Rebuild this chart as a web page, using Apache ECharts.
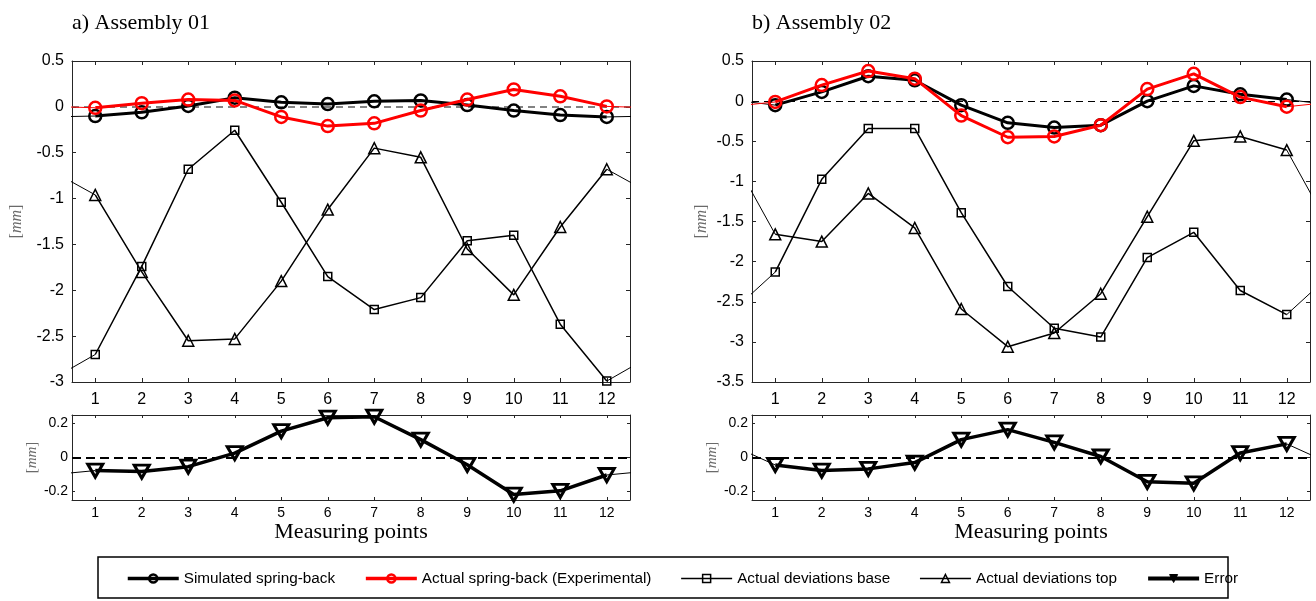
<!DOCTYPE html>
<html><head><meta charset="utf-8">
<script src="https://cdn.jsdelivr.net/npm/echarts@6/dist/echarts.min.js"></script>
<style>html,body{margin:0;padding:0;background:#fff}#c{width:1316px;height:601px}</style>
</head><body><div id="c"></div>
<script>
// ---------------- DATA ----------------
const points = [1,2,3,4,5,6,7,8,9,10,11,12];
const wrapLeft = 0, wrapRight = 13;           // wrap-around positions (periodic measuring points)
const xTicks = [1,2,3,4,5,6,7,8,9,10,11,12];
const errTicks = [-0.2, 0, 0.2];

const titles = ['a) Assembly 01', 'b) Assembly 02'];
const seriesNames = ['Simulated spring-back', 'Actual spring-back (Experimental)', 'Actual deviations base', 'Actual deviations top', 'Error'];

// Assembly 01
const a1Sim  = [-0.10,-0.06,0.01,0.10,0.05,0.03,0.06,0.07,0.02,-0.04,-0.09,-0.11];
const a1Act  = [-0.01,0.04,0.08,0.07,-0.11,-0.21,-0.18,-0.04,0.08,0.19,0.115,0.005];
const a1Base = [-2.70,-1.74,-0.68,-0.255,-1.04,-1.85,-2.21,-2.08,-1.46,-1.40,-2.37,-2.99];
const a1Top  = [-0.96,-1.80,-2.55,-2.53,-1.90,-1.12,-0.45,-0.55,-1.55,-2.05,-1.31,-0.68];
const a1Err  = [-0.077,-0.083,-0.054,0.026,0.155,0.234,0.24,0.105,-0.043,-0.218,-0.196,-0.103];

// Assembly 02
const a2Sim  = [-0.05,0.115,0.31,0.26,-0.05,-0.27,-0.33,-0.30,0.0,0.19,0.085,0.02];
const a2Act  = [-0.01,0.20,0.375,0.28,-0.18,-0.45,-0.44,-0.30,0.15,0.34,0.05,-0.07];
const a2Base = [-2.13,-0.975,-0.34,-0.34,-1.39,-2.31,-2.83,-2.94,-1.95,-1.635,-2.36,-2.66];
const a2Top  = [-1.66,-1.75,-1.15,-1.58,-2.59,-3.06,-2.89,-2.40,-1.44,-0.495,-0.44,-0.61];
const a2Err  = [-0.044,-0.077,-0.067,-0.03,0.105,0.164,0.089,0.006,-0.143,-0.152,0.026,0.08];

// ---------------- CHART ----------------
const chart = echarts.init(document.getElementById('c'), null, {renderer: 'canvas'});
const AX = '#262626';
const SANS = 'Liberation Sans, Arial, sans-serif';
const SERIF = 'Liberation Serif, Times New Roman, serif';

const grids = [
  {left: 72,  top: 61,  width: 558, height: 321},
  {left: 752, top: 61,  width: 558, height: 321},
  {left: 72,  top: 415, width: 558, height: 85},
  {left: 752, top: 415, width: 558, height: 85}
];
const yRanges = [
  {min: -3, max: 0.5, interval: 0.5},
  {min: -3.5, max: 0.5, interval: 0.5},
  {min: -0.25, max: 0.25},
  {min: -0.25, max: 0.25}
];
const nameGaps = [47, 42, 29, 32];

const xAxes = [], yAxes = [];
grids.forEach((g, gi) => {
  const small = gi >= 2;
  const tl = small ? 3 : 4;
  xAxes.push({
    type: 'value', gridIndex: gi, position: 'bottom', min: 0.5, max: 12.5,
    axisLine: {show: true, onZero: false, lineStyle: {color: AX, width: 1}},
    axisTick: {show: true, inside: true, length: tl, customValues: xTicks, lineStyle: {color: AX}},
    axisLabel: {show: true, customValues: xTicks, color: '#000', fontFamily: SANS,
                fontSize: small ? 14 : 16, margin: small ? 6 : 10},
    splitLine: {show: false},
    name: small ? 'Measuring points' : '', nameLocation: 'middle', nameGap: 20,
    nameTextStyle: {fontFamily: SERIF, fontSize: 22, color: '#000'}
  });
  xAxes.push({
    type: 'value', gridIndex: gi, position: 'top', min: 0.5, max: 12.5,
    axisLine: {show: true, onZero: false, lineStyle: {color: AX, width: 1}},
    axisTick: {show: true, inside: true, length: tl, customValues: xTicks, lineStyle: {color: AX}},
    axisLabel: {show: false}, splitLine: {show: false}
  });
  const r = yRanges[gi];
  const yBase = {
    type: 'value', gridIndex: gi, min: r.min, max: r.max,
    axisLine: {show: true, onZero: false, lineStyle: {color: AX, width: 1}},
    splitLine: {show: false}
  };
  const tick = {show: true, inside: true, length: tl, lineStyle: {color: AX}};
  const lab = {show: true, color: '#000', fontFamily: SANS, fontSize: small ? 14 : 16, margin: small ? 4 : 8};
  if (small) { tick.customValues = errTicks; lab.customValues = errTicks; }
  else { yBase.interval = r.interval; }
  const nfs = small ? 15 : 16;
  yAxes.push(Object.assign({}, yBase, {
    position: 'left', axisTick: tick, axisLabel: lab,
    name: '{b|[}{i|mm}{b|]}', nameLocation: 'middle', nameGap: nameGaps[gi],
    nameTextStyle: {fontSize: nfs, rich: {
      b: {fontFamily: SERIF, fontSize: nfs, color: '#6a6a6a'},
      i: {fontFamily: SERIF, fontStyle: 'italic', fontSize: nfs, color: '#6a6a6a'}
    }}
  }));
  yAxes.push(Object.assign({}, yBase, {
    position: 'right', axisTick: Object.assign({}, tick), axisLabel: {show: false}
  }));
});

function xy(arr) { return points.map((p, i) => [p, arr[i]]); }
function wrapL(arr) { return [[wrapLeft, arr[arr.length - 1]], [points[0], arr[0]]]; }
function wrapR(arr) { return [[points[points.length - 1], arr[arr.length - 1]], [wrapRight, arr[0]]]; }

const styles = [
  {symbol: 'circle', symbolSize: 12, color: '#000', lw: 3, bw: 2.5},
  {symbol: 'circle', symbolSize: 12, color: '#ff0000', lw: 3, bw: 2.5},
  {symbol: 'rect', symbolSize: 8, color: '#000', lw: 1.5, bw: 1.5},
  {symbol: 'triangle', symbolSize: 11, color: '#000', lw: 1.5, bw: 1.5},
  {symbol: 'triangle', symbolSize: [15, 13], color: '#000', lw: 3.5, bw: 3, rotate: 180}
];

const series = [];
function addSeries(gi, arr, si, zeroLine) {
  const st = styles[si];
  const s = {
    name: seriesNames[si], type: 'line', xAxisIndex: gi * 2, yAxisIndex: gi * 2,
    data: xy(arr), symbol: st.symbol, symbolSize: st.symbolSize, symbolRotate: st.rotate || 0,
    showSymbol: true, clip: true, animation: false, z: 3 + si,
    lineStyle: {color: st.color, width: st.lw},
    itemStyle: {color: 'rgba(255,255,255,0)', borderColor: st.color, borderWidth: st.bw}
  };
  if (zeroLine) {
    s.markLine = {
      silent: true, symbol: ['none', 'none'], label: {show: false},
      lineStyle: zeroLine, data: [{yAxis: 0}], z: 1
    };
  }
  series.push(s);
  [wrapL(arr), wrapR(arr)].forEach(d => series.push({
    name: '_edge', type: 'line', xAxisIndex: gi * 2, yAxisIndex: gi * 2, data: d,
    showSymbol: false, clip: true, animation: false, z: 2,
    lineStyle: {color: st.color, width: 1}
  }));
}

const panels = [
  {sim: a1Sim, act: a1Act, base: a1Base, top: a1Top, err: a1Err, zc: '#5a5a5a', zw: 1.5},
  {sim: a2Sim, act: a2Act, base: a2Base, top: a2Top, err: a2Err, zc: '#000', zw: 1.2}
];
panels.forEach((p, k) => {
  addSeries(k, p.sim, 0, {color: p.zc, width: p.zw, type: [7, 5]});
  addSeries(k, p.act, 1);
  addSeries(k, p.base, 2);
  addSeries(k, p.top, 3);
  addSeries(k + 2, p.err, 4, {color: '#000', width: 2, type: [9, 5]});
});

const legendData = [
  {name: seriesNames[0], lineStyle: {width: 3.5}, itemStyle: {borderWidth: 2.5}},
  {name: seriesNames[1], lineStyle: {width: 3.5}, itemStyle: {borderWidth: 2.5}},
  {name: seriesNames[2], lineStyle: {width: 1.5}, itemStyle: {borderWidth: 1.5}},
  {name: seriesNames[3], lineStyle: {width: 1.5}, itemStyle: {borderWidth: 1.5}},
  {name: seriesNames[4], lineStyle: {width: 4}, itemStyle: {color: '#000', borderWidth: 1}}
];

chart.setOption({
  backgroundColor: '#fff',
  animation: false,
  title: [
    {text: titles[0], left: 72, top: 12, padding: 0, textStyle: {fontFamily: SERIF, fontSize: 22, fontWeight: 'normal', color: '#000'}},
    {text: titles[1], left: 752, top: 12, padding: 0, textStyle: {fontFamily: SERIF, fontSize: 22, fontWeight: 'normal', color: '#000'}}
  ],
  grid: grids,
  xAxis: xAxes,
  yAxis: yAxes,
  legend: {
    data: legendData, left: 126, top: 571, padding: 0, itemGap: 29,
    itemWidth: 51, itemHeight: 10,
    textStyle: {fontFamily: SANS, fontSize: 15.3, color: '#000'}
  },
  graphic: [{
    type: 'rect', shape: {x: 98, y: 557, width: 1130, height: 41},
    style: {fill: 'none', stroke: '#000', lineWidth: 1.5}, silent: true
  }],
  series: series
});
</script></body></html>
